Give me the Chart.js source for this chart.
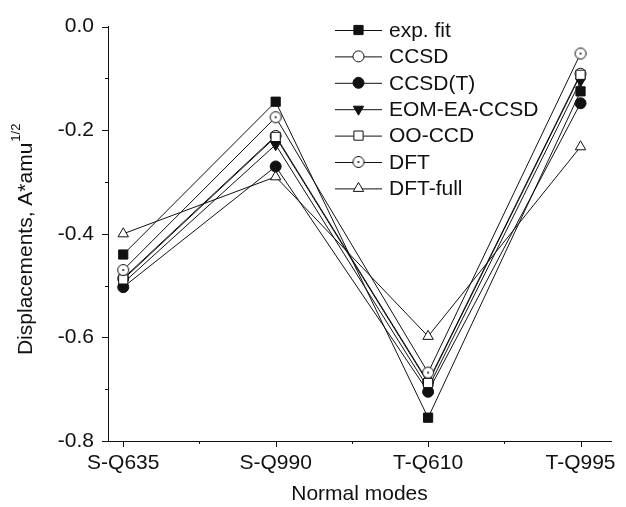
<!DOCTYPE html>
<html>
<head>
<meta charset="utf-8">
<script src="https://cdn.jsdelivr.net/npm/chart.js@4.4.1/dist/chart.umd.min.js"></script>
<style>
  html, body { margin: 0; padding: 0; background: #fff; }
  #wrap { width: 626px; height: 507px; position: relative; }
</style>
</head>
<body>
<div id="wrap"><canvas id="c"></canvas></div>
<script>
// normal modes along the x axis
const modes = ['S-Q635', 'S-Q990', 'T-Q610', 'T-Q995'];

// displacements per method
const expFit    = [-0.440, -0.145, -0.755, -0.125];
const ccsd      = [-0.486, -0.211, -0.686, -0.091];
const ccsdT     = [-0.503, -0.270, -0.705, -0.148];
const eomEaCcsd = [-0.495, -0.228, -0.698, -0.105];
const ooCcd     = [-0.488, -0.213, -0.688, -0.093];
const dft       = [-0.470, -0.175, -0.668, -0.052];
const dftFull   = [-0.400, -0.290, -0.598, -0.232];

const yTicks = [0.0, -0.2, -0.4, -0.6, -0.8];

const FONT = "'Liberation Sans', Arial, sans-serif";
const INK = '#111';

// open circle with a dot in the middle
function dotCircle(r) {
  const c = document.createElement('canvas');
  const s = Math.ceil(r * 2 + 3);
  c.width = s; c.height = s;
  const g = c.getContext('2d');
  g.beginPath(); g.arc(s / 2, s / 2, r, 0, Math.PI * 2);
  g.fillStyle = '#fff'; g.fill();
  g.lineWidth = 1; g.strokeStyle = INK; g.stroke();
  g.beginPath(); g.arc(s / 2, s / 2, 1, 0, Math.PI * 2);
  g.fillStyle = INK; g.fill();
  return c;
}

function series(label, data, style, filled, extra) {
  return Object.assign({
    label,
    data: data.map((v, i) => ({ x: i, y: v })),
    borderColor: INK,
    borderWidth: 1,
    pointStyle: style,
    pointRadius: 6,
    pointBorderWidth: 1,
    pointBorderColor: INK,
    pointBackgroundColor: filled ? INK : '#fff',
    tension: 0,
    fill: false,
  }, extra || {});
}

// lower order is painted on top
const datasets = [
  series('exp. fit', expFit, 'rect', true, { pointRadius: 6.5, order: 0 }),
  series('CCSD', ccsd, 'circle', false, { pointRadius: 5.5, order: 5 }),
  series('CCSD(T)', ccsdT, 'circle', true, { pointRadius: 5.5, order: 4 }),
  series('EOM-EA-CCSD', eomEaCcsd, 'triangle', true, { pointRotation: 180, order: 3 }),
  series('OO-CCD', ooCcd, 'rect', false, { pointRadius: 6.5, order: 2 }),
  series('DFT', dft, dotCircle(5.5), false, { order: 1 }),
  series('DFT-full', dftFull, 'triangle', false, { order: 6 }),
];

// outward tick marks, long for labelled values, short in between
const tickMarks = {
  id: 'tickMarks',
  afterDraw(chart) {
    const ctx = chart.ctx, a = chart.chartArea;
    const xs = chart.scales.x, ys = chart.scales.y;
    ctx.save();
    ctx.strokeStyle = INK; ctx.lineWidth = 1;
    ctx.beginPath();
    for (let v = 0; v >= -0.8001; v -= 0.1) {
      const y = Math.round(ys.getPixelForValue(v)) + 0.5;
      const major = Math.abs(Math.round(v * 10)) % 2 === 0;
      ctx.moveTo(a.left, y); ctx.lineTo(a.left - (major ? 6 : 3), y);
    }
    for (let v = 0; v <= 3.01; v += 0.5) {
      const x = Math.round(xs.getPixelForValue(v)) + 0.5;
      const major = Math.abs(v - Math.round(v)) < 0.01;
      ctx.moveTo(x, a.bottom); ctx.lineTo(x, a.bottom + (major ? 6 : 3));
    }
    ctx.stroke();
    ctx.restore();
  }
};

// y title with the 1/2 exponent raised
const yTitle = {
  id: 'yTitle',
  afterDraw(chart) {
    const ctx = chart.ctx, a = chart.chartArea;
    const main = 'Displacements, A*amu';
    const sup = '1/2';
    ctx.save();
    ctx.fillStyle = INK;
    ctx.textBaseline = 'middle';
    ctx.font = '21px ' + FONT;
    const w1 = ctx.measureText(main).width;
    ctx.font = '13px ' + FONT;
    const w2 = ctx.measureText(sup).width;
    ctx.translate(26, (a.top + a.bottom) / 2 + 6);
    ctx.rotate(-Math.PI / 2);
    const x0 = -(w1 + w2) / 2;
    ctx.font = '21px ' + FONT;
    ctx.textAlign = 'left';
    ctx.fillText(main, x0, 0);
    ctx.font = '13px ' + FONT;
    ctx.fillText(sup, x0 + w1 + 1, -10);
    ctx.restore();
  }
};

// legend rows: short line with the marker on it, then the name
const lineLegend = {
  id: 'lineLegend',
  afterDraw(chart) {
    const ctx = chart.ctx;
    const x0 = 335, x1 = 382, top = 30, step = 26.4;
    ctx.save();
    chart.data.datasets.forEach((ds, i) => {
      const y = top + i * step;
      ctx.strokeStyle = INK; ctx.lineWidth = 1;
      ctx.beginPath(); ctx.moveTo(x0, y + 0.5); ctx.lineTo(x1, y + 0.5); ctx.stroke();
      ctx.fillStyle = ds.pointBackgroundColor;
      ctx.strokeStyle = INK;
      Chart.helpers.drawPoint(ctx, {
        pointStyle: ds.pointStyle,
        radius: ds.pointRadius,
        rotation: ds.pointRotation || 0,
        borderWidth: 1,
      }, (x0 + x1) / 2, y);
      ctx.fillStyle = INK;
      ctx.font = '21px ' + FONT;
      ctx.textAlign = 'left'; ctx.textBaseline = 'middle';
      ctx.fillText(ds.label, 389, y + 1);
    });
    ctx.restore();
  }
};

new Chart(document.getElementById('c'), {
  type: 'line',
  data: { datasets },
  plugins: [tickMarks, yTitle, lineLegend],
  options: {
    responsive: true,
    maintainAspectRatio: false,
    animation: false,
    layout: { padding: { top: 19, right: 3, left: 0, bottom: 0 } },
    plugins: { legend: { display: false }, tooltip: { enabled: false } },
    scales: {
      x: {
        type: 'linear',
        min: -0.1, max: 3.2,
        afterFit: s => { s.height = 66; },
        afterBuildTicks: s => { s.ticks = modes.map((m, i) => ({ value: i })); },
        grid: { display: false, drawTicks: false },
        border: { display: true, color: INK, width: 1 },
        ticks: {
          color: INK, padding: 10, maxRotation: 0, autoSkip: false,
          font: { family: FONT, size: 21 },
          callback: v => modes[v],
        },
        title: {
          display: true, text: 'Normal modes', color: INK,
          font: { family: FONT, size: 21 }, padding: { top: 0, bottom: 0 },
        },
      },
      y: {
        min: -0.8, max: 0,
        afterFit: s => { s.width = 108; },
        afterBuildTicks: s => { s.ticks = yTicks.map(v => ({ value: v })); },
        grid: { display: false, drawTicks: false },
        border: { display: true, color: INK, width: 1 },
        ticks: {
          color: INK, padding: 14,
          font: { family: FONT, size: 21 },
          callback: v => v.toFixed(1),
        },
      },
    },
  },
});
</script>
</body>
</html>
